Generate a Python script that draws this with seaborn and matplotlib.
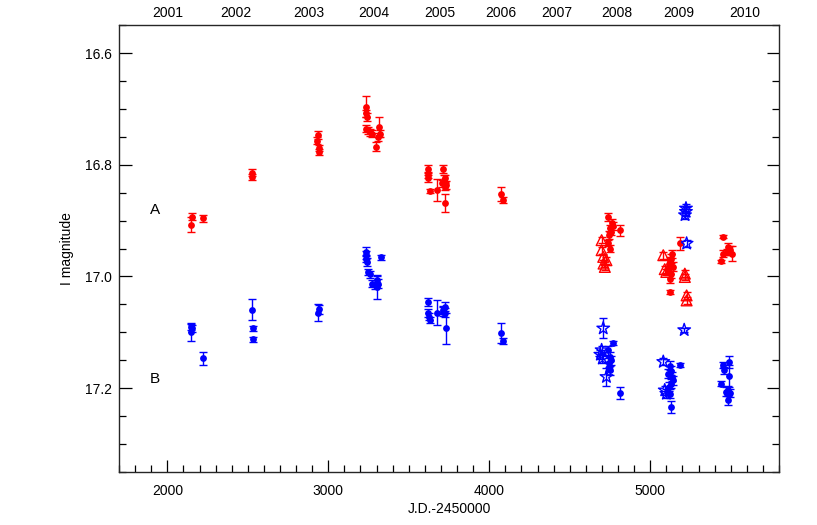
import matplotlib
matplotlib.use("Agg")
import matplotlib.pyplot as plt
import seaborn as sns
from matplotlib.ticker import MultipleLocator

# image A - filled circles (JD-2450000, I mag, error)
red_jd = [2147, 2153, 2220, 2526, 2528,
          2934, 2928, 2944, 2944,
          3234, 3236, 3242, 3236, 3246, 3260, 3272, 3296, 3317, 3321, 3310,
          3617, 3620, 3618, 3632, 3677, 3710, 3718, 3704, 3732, 3722, 3722, 3725,
          4073, 4087,
          4739, 4760, 4770, 4750, 4745, 4750, 4812, 4740, 4755,
          5128, 5115, 5140, 5110, 5128, 5122, 5120, 5135, 5122, 5184,
          5453, 5437, 5485, 5495, 5475, 5505, 5455]
red_mag = [16.907, 16.893, 16.896, 16.814, 16.822,
           16.747, 16.757, 16.770, 16.777,
           16.696, 16.708, 16.714, 16.735, 16.738, 16.742, 16.744, 16.768, 16.732, 16.744, 16.750,
           16.808, 16.818, 16.824, 16.847, 16.845, 16.808, 16.827, 16.833, 16.836, 16.839, 16.868, 16.824,
           16.852, 16.863,
           16.894, 16.904, 16.910, 16.914, 16.926, 16.950, 16.917, 16.940, 16.920,
           16.968, 16.977, 16.983, 16.989, 16.995, 17.004, 16.972, 16.960, 17.028, 16.941,
           16.929, 16.973, 16.947, 16.953, 16.956, 16.959, 16.959]
red_err = [0.014, 0.006, 0.006, 0.006, 0.006,
           0.007, 0.006, 0.006, 0.006,
           0.019, 0.007, 0.007, 0.006, 0.006, 0.006, 0.006, 0.008, 0.018, 0.007, 0.007,
           0.007, 0.006, 0.006, 0.004, 0.020, 0.007, 0.008, 0.006, 0.007, 0.006, 0.016, 0.006,
           0.013, 0.006,
           0.007, 0.007, 0.007, 0.007, 0.007, 0.007, 0.010, 0.006, 0.006,
           0.008, 0.008, 0.008, 0.008, 0.008, 0.008, 0.006, 0.007, 0.004, 0.012,
           0.003, 0.003, 0.006, 0.008, 0.006, 0.014, 0.006]

# image A - open triangles
tri_jd = [4698, 4698, 4708, 4728, 4718, 4710, 5081, 5100, 5090, 5215, 5215, 5226, 5226]
tri_mag = [16.935, 16.953, 16.965, 16.971, 16.983, 16.977, 16.962, 16.992, 16.987,
           16.995, 17.001, 17.034, 17.043]
tri_err = [0.006] * 13

# image B - filled circles
blue_jd = [2145, 2152, 2145, 2222,
           2524, 2530, 2530,
           2942, 2938,
           3234, 3234, 3234, 3238, 3248, 3258, 3269, 3290, 3304, 3310, 3300, 3325,
           3617, 3620, 3626, 3632, 3677, 3710, 3725, 3725, 3715, 3729,
           4073, 4087,
           4739, 4750, 4754, 4745, 4750, 4744, 4770, 4812,
           5122, 5130, 5110, 5135, 5142, 5128, 5115, 5125, 5126, 5184,
           5453, 5460, 5437, 5487, 5487, 5485, 5495, 5485, 5470]
blue_mag = [17.090, 17.093, 17.100, 17.147,
            17.060, 17.093, 17.113,
            17.059, 17.065,
            16.956, 16.962, 16.968, 16.974, 16.992, 16.996, 17.013, 17.016, 17.007, 17.013, 17.019, 16.966,
            17.046, 17.066, 17.072, 17.078, 17.065, 17.063, 17.054, 17.065, 17.060, 17.093,
            17.101, 17.116,
            17.132, 17.144, 17.150, 17.155, 17.168, 17.162, 17.119, 17.209,
            17.160, 17.169, 17.174, 17.180, 17.186, 17.192, 17.198, 17.210, 17.234, 17.159,
            17.159, 17.168, 17.192, 17.153, 17.178, 17.204, 17.209, 17.222, 17.207]
blue_err = [0.006, 0.006, 0.015, 0.011,
            0.019, 0.005, 0.004,
            0.008, 0.015,
            0.008, 0.007, 0.007, 0.007, 0.006, 0.006, 0.006, 0.006, 0.008, 0.008, 0.021, 0.005,
            0.007, 0.007, 0.007, 0.006, 0.022, 0.008, 0.008, 0.008, 0.007, 0.028,
            0.018, 0.005,
            0.008, 0.008, 0.008, 0.008, 0.008, 0.008, 0.004, 0.011,
            0.008, 0.008, 0.008, 0.008, 0.008, 0.008, 0.008, 0.008, 0.010, 0.004,
            0.006, 0.006, 0.004, 0.011, 0.020, 0.008, 0.008, 0.008, 0.008]

# image B - open stars
star_jd = [4708, 4698, 4690, 4702, 4728, 5081, 5090, 5100, 5222, 5222, 5216, 5226, 5211]
star_mag = [17.093, 17.132, 17.140, 17.147, 17.180, 17.153, 17.204, 17.210,
            16.878, 16.884, 16.890, 16.941, 17.096]
star_err = [0.018, 0.008, 0.008, 0.008, 0.016, 0.006, 0.008, 0.008,
            0.008, 0.008, 0.008, 0.006, 0.004]

year_labels = ['2001', '2002', '2003', '2004', '2005', '2006', '2007', '2008', '2009', '2010']
year_pos = [2004, 2423, 2880, 3285, 3693, 4071, 4419, 4790, 5175, 5589]

sns.set_style("ticks")
plt.rcParams['font.family'] = ['Liberation Sans', 'DejaVu Sans']
plt.rcParams.update({'text.color': 'black', 'axes.labelcolor': 'black',
                     'xtick.color': 'black', 'ytick.color': 'black'})

fig = plt.figure(figsize=(8.17, 5.25), dpi=100)
ax = fig.add_axes([0.1457, 0.1015, 0.8078, 0.8503])

for jd, mag, err, col in [(red_jd, red_mag, red_err, 'red'), (tri_jd, tri_mag, tri_err, 'red'),
                          (blue_jd, blue_mag, blue_err, 'blue'), (star_jd, star_mag, star_err, 'blue')]:
    ax.errorbar(jd, mag, yerr=err, fmt='none', ecolor=col, elinewidth=1, capsize=3, capthick=1)

sns.scatterplot(x=red_jd, y=red_mag, color='red', marker='o', s=24, linewidth=0, ax=ax)
sns.scatterplot(x=blue_jd, y=blue_mag, color='blue', marker='o', s=24, linewidth=0, ax=ax)
ax.scatter(tri_jd, tri_mag, marker='^', s=60, facecolors='none', edgecolors='red', linewidths=1)
ax.scatter(star_jd, star_mag, marker='*', s=90, facecolors='none', edgecolors='blue', linewidths=1)

ax.set_xlim(1700, 5800)
ax.set_ylim(17.35, 16.55)
ax.xaxis.set_major_locator(MultipleLocator(1000))
ax.xaxis.set_minor_locator(MultipleLocator(100))
ax.yaxis.set_major_locator(MultipleLocator(0.2))
ax.yaxis.set_minor_locator(MultipleLocator(0.05))
ax.set_yticks([16.6, 16.8, 17.0, 17.2])
ax.set_yticklabels(['16.6', '16.8', '17.0', '17.2'])
ax.tick_params(which='both', direction='in', top=True, right=True, labelsize=10, width=0.9, color='black')
ax.tick_params(which='major', length=9, pad=5)
ax.tick_params(axis='x', which='major', pad=9)
ax.tick_params(which='minor', length=5)
ax.tick_params(axis='x', labeltop=False)
for s in ax.spines.values():
    s.set_linewidth(0.9)
    s.set_color('black')

ax.set_xlabel('J.D.-2450000', fontsize=10, labelpad=3)
ax.set_ylabel('I magnitude', fontsize=10, labelpad=8)

ax.text(1924, 16.881, 'A', fontsize=11, ha='center', va='center')
ax.text(1924, 17.183, 'B', fontsize=11, ha='center', va='center')

top = ax.twiny()
top.set_xlim(ax.get_xlim())
top.set_xticks(year_pos)
top.set_xticklabels(year_labels)
top.tick_params(axis='x', length=0, pad=4, labelsize=10)
top.xaxis.set_minor_locator(plt.NullLocator())

fig.savefig('out.png', dpi=100)
